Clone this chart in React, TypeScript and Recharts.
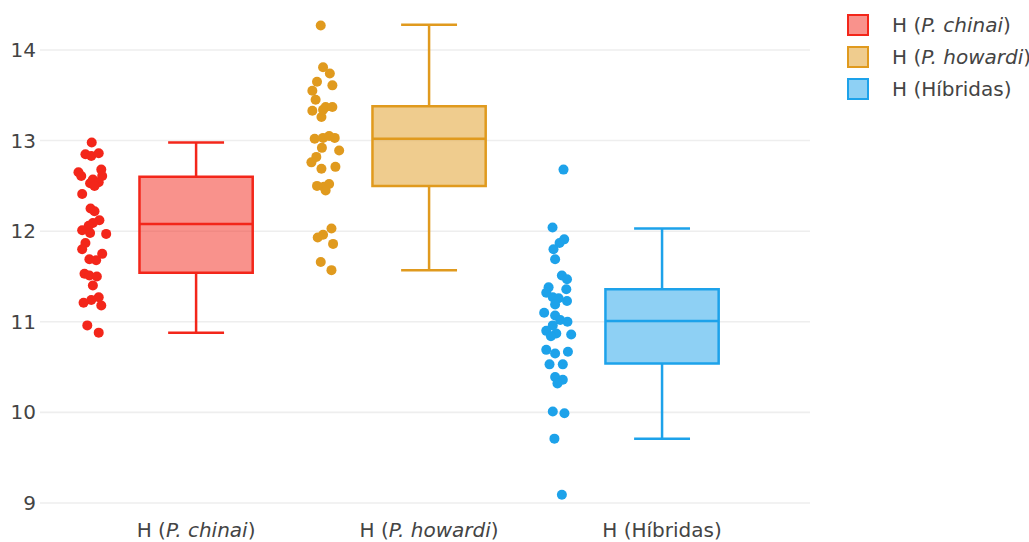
import React from 'react';
import {
  ComposedChart,
  Scatter,
  XAxis,
  YAxis,
  ReferenceArea,
  ReferenceLine,
  Legend,
} from 'recharts';

// ---------- data ----------
const categoryPrefix = ['H (', 'H (', 'H ('];
const categoryNames = ['P. chinai', 'P. howardi', 'Híbridas'];
const categoryItalic = [true, true, false];
const seriesColors = ['#F3261A', '#E09A1E', '#1DA2EA'];

const lowerFence = [10.88, 11.57, 9.71];
const q1 = [11.54, 12.5, 10.54];
const median = [12.08, 13.02, 11.01];
const q3 = [12.6, 13.38, 11.36];
const upperFence = [12.98, 14.28, 12.03];

const chinaiValues = [
  12.98, 12.85, 12.83, 12.86, 12.65, 12.61, 12.68, 12.61, 12.57, 12.53, 12.54, 12.5,
  12.41, 12.25, 12.22, 12.12, 12.09, 12.06, 12.01, 11.98, 11.97, 11.87, 11.8, 11.75,
  11.69, 11.68, 11.53, 11.51, 11.5, 11.4, 11.27, 11.24, 11.21, 11.18, 10.96, 10.88,
];
const chinaiJitter = [
  -0.448, -0.475, -0.45, -0.418, -0.505, -0.493, -0.407, -0.403, -0.443, -0.455, -0.418, -0.436,
  -0.489, -0.453, -0.436, -0.415, -0.443, -0.461, -0.489, -0.455, -0.386, -0.475, -0.489, -0.403,
  -0.458, -0.429, -0.479, -0.458, -0.426, -0.443, -0.418, -0.45, -0.483, -0.407, -0.467, -0.418,
];

const howardiValues = [
  14.27, 13.81, 13.74, 13.61, 13.65, 13.55, 13.45, 13.37, 13.37, 13.33, 13.26, 13.34,
  13.02, 13.03, 13.05, 13.03, 12.92, 12.89, 12.82, 12.76, 12.69, 12.71, 12.5, 12.49,
  12.52, 12.45, 12.03, 11.96, 11.93, 11.86, 11.66, 11.57,
];
const howardiJitter = [
  -0.465, -0.455, -0.426, -0.415, -0.481, -0.501, -0.487, -0.415, -0.444, -0.501, -0.462, -0.455,
  -0.491, -0.455, -0.429, -0.405, -0.46, -0.386, -0.484, -0.505, -0.462, -0.402, -0.481, -0.451,
  -0.429, -0.444, -0.419, -0.455, -0.478, -0.412, -0.465, -0.419,
];

const hibridasValues = [
  12.68, 12.04, 11.91, 11.87, 11.8, 11.69, 11.51, 11.47, 11.36, 11.38, 11.32, 11.27,
  11.26, 11.23, 11.19, 11.1, 11.07, 11.02, 11.0, 10.96, 10.9, 10.87, 10.84, 10.86,
  10.69, 10.65, 10.67, 10.53, 10.53, 10.39, 10.36, 10.32, 10.01, 9.99, 9.71, 9.09,
];
const hibridasJitter = [
  -0.423, -0.47, -0.42, -0.44, -0.466, -0.459, -0.43, -0.408, -0.411, -0.487, -0.497, -0.469,
  -0.444, -0.408, -0.459, -0.506, -0.459, -0.437, -0.406, -0.469, -0.497, -0.454, -0.477, -0.39,
  -0.497, -0.459, -0.404, -0.483, -0.426, -0.459, -0.426, -0.449, -0.469, -0.419, -0.462, -0.43,
];

const yTicks = [9, 10, 11, 12, 13, 14];
const xTicks = [0, 1, 2];

const groupValues = [chinaiValues, howardiValues, hibridasValues];
const groupJitter = [chinaiJitter, howardiJitter, hibridasJitter];

const BOX_HALF = 0.243;
const CAP_HALF = 0.12;
const GRID_HALF = 0.0085; // half thickness of grid rows in data units
const X_DOMAIN: [number, number] = [-0.67, 2.635];
const FONT = '"DejaVu Sans", Verdana, sans-serif';
const TEXT = '#444';
const FS = 20;

const pointData = groupValues.map((vals, g) =>
  vals.map((v, i) => ({ x: g + groupJitter[g][i], y: v }))
);

const XTick = (props: any) => {
  const { x, y, payload } = props;
  const i = payload.value as number;
  return (
    <text x={x} y={y + 19} textAnchor="middle" fill={TEXT} fontSize={FS} fontFamily={FONT}>
      {categoryPrefix[i]}
      <tspan fontStyle={categoryItalic[i] ? 'italic' : 'normal'}>{categoryNames[i]}</tspan>
      {')'}
    </text>
  );
};

const renderLegend = () => (
  <div style={{ fontFamily: FONT, fontSize: FS, color: TEXT }}>
    {categoryNames.map((name, i) => (
      <div key={name} style={{ display: 'flex', alignItems: 'center', height: 32, whiteSpace: 'nowrap' }}>
        <div
          style={{
            width: 18,
            height: 18,
            border: `2.5px solid ${seriesColors[i]}`,
            background: seriesColors[i] + '80',
            marginRight: 23,
            flexShrink: 0,
          }}
        />
        <span>
          {'H ('}
          <span style={{ fontStyle: categoryItalic[i] ? 'italic' : 'normal' }}>{name}</span>
          {')'}
        </span>
      </div>
    ))}
  </div>
);

export default function App() {
  return (
    <div
      style={{
        position: 'absolute',
        left: 0,
        top: 0,
        width: 1029,
        height: 542,
        overflow: 'hidden',
        background: '#fff',
        fontFamily: FONT,
      }}
    >
      <ComposedChart
        width={1029}
        height={542}
        margin={{ top: 2, right: 219, bottom: 0, left: 0 }}
      >
        <XAxis
          dataKey="x"
          type="number"
          domain={X_DOMAIN}
          ticks={xTicks}
          allowDataOverflow
          axisLine={false}
          tickLine={false}
          tickSize={0}
          tickMargin={0}
          height={24}
          tick={<XTick />}
          interval={0}
        />
        <YAxis
          type="number"
          domain={[8.834, 14.53]}
          ticks={yTicks}
          allowDataOverflow
          axisLine={false}
          tickLine={false}
          tickSize={0}
          tickMargin={4}
          width={40}
          tick={{ fill: TEXT, fontSize: FS, fontFamily: FONT }}
        />
        {yTicks.map((t) => (
          <ReferenceArea
            key={`g${t}`}
            x1={X_DOMAIN[0]}
            x2={X_DOMAIN[1]}
            y1={t - GRID_HALF}
            y2={t + GRID_HALF}
            fill="#eee"
            fillOpacity={1}
            stroke="none"
          />
        ))}
        <Legend
          layout="vertical"
          align="center"
          verticalAlign="middle"
          content={renderLegend}
          wrapperStyle={{ left: 847, top: 9, width: 220 }}
        />
        {xTicks.map((g) => (
          <ReferenceArea
            key={`box${g}`}
            x1={g - BOX_HALF}
            x2={g + BOX_HALF}
            y1={q1[g]}
            y2={q3[g]}
            fill={seriesColors[g]}
            fillOpacity={0.5}
            stroke={seriesColors[g]}
            strokeWidth={2.5}
          />
        ))}
        {xTicks.map((g) => (
          <ReferenceLine
            key={`wu${g}`}
            segment={[{ x: g, y: q3[g] }, { x: g, y: upperFence[g] }]}
            stroke={seriesColors[g]}
            strokeWidth={2.5}
          />
        ))}
        {xTicks.map((g) => (
          <ReferenceLine
            key={`wl${g}`}
            segment={[{ x: g, y: q1[g] }, { x: g, y: lowerFence[g] }]}
            stroke={seriesColors[g]}
            strokeWidth={2.5}
          />
        ))}
        {xTicks.map((g) => (
          <ReferenceLine
            key={`cu${g}`}
            segment={[{ x: g - CAP_HALF, y: upperFence[g] }, { x: g + CAP_HALF, y: upperFence[g] }]}
            stroke={seriesColors[g]}
            strokeWidth={2.5}
          />
        ))}
        {xTicks.map((g) => (
          <ReferenceLine
            key={`cl${g}`}
            segment={[{ x: g - CAP_HALF, y: lowerFence[g] }, { x: g + CAP_HALF, y: lowerFence[g] }]}
            stroke={seriesColors[g]}
            strokeWidth={2.5}
          />
        ))}
        {xTicks.map((g) => (
          <ReferenceLine
            key={`med${g}`}
            segment={[{ x: g - BOX_HALF, y: median[g] }, { x: g + BOX_HALF, y: median[g] }]}
            stroke={seriesColors[g]}
            strokeWidth={2.5}
          />
        ))}
        {xTicks.map((g) => (
          <Scatter
            key={`pts${g}`}
            data={pointData[g]}
            dataKey="y"
            isAnimationActive={false}
            fill={seriesColors[g]}
            shape={(p: any) => <circle cx={p.cx} cy={p.cy} r={5} fill={seriesColors[g]} />}
          />
        ))}
      </ComposedChart>
    </div>
  );
}
